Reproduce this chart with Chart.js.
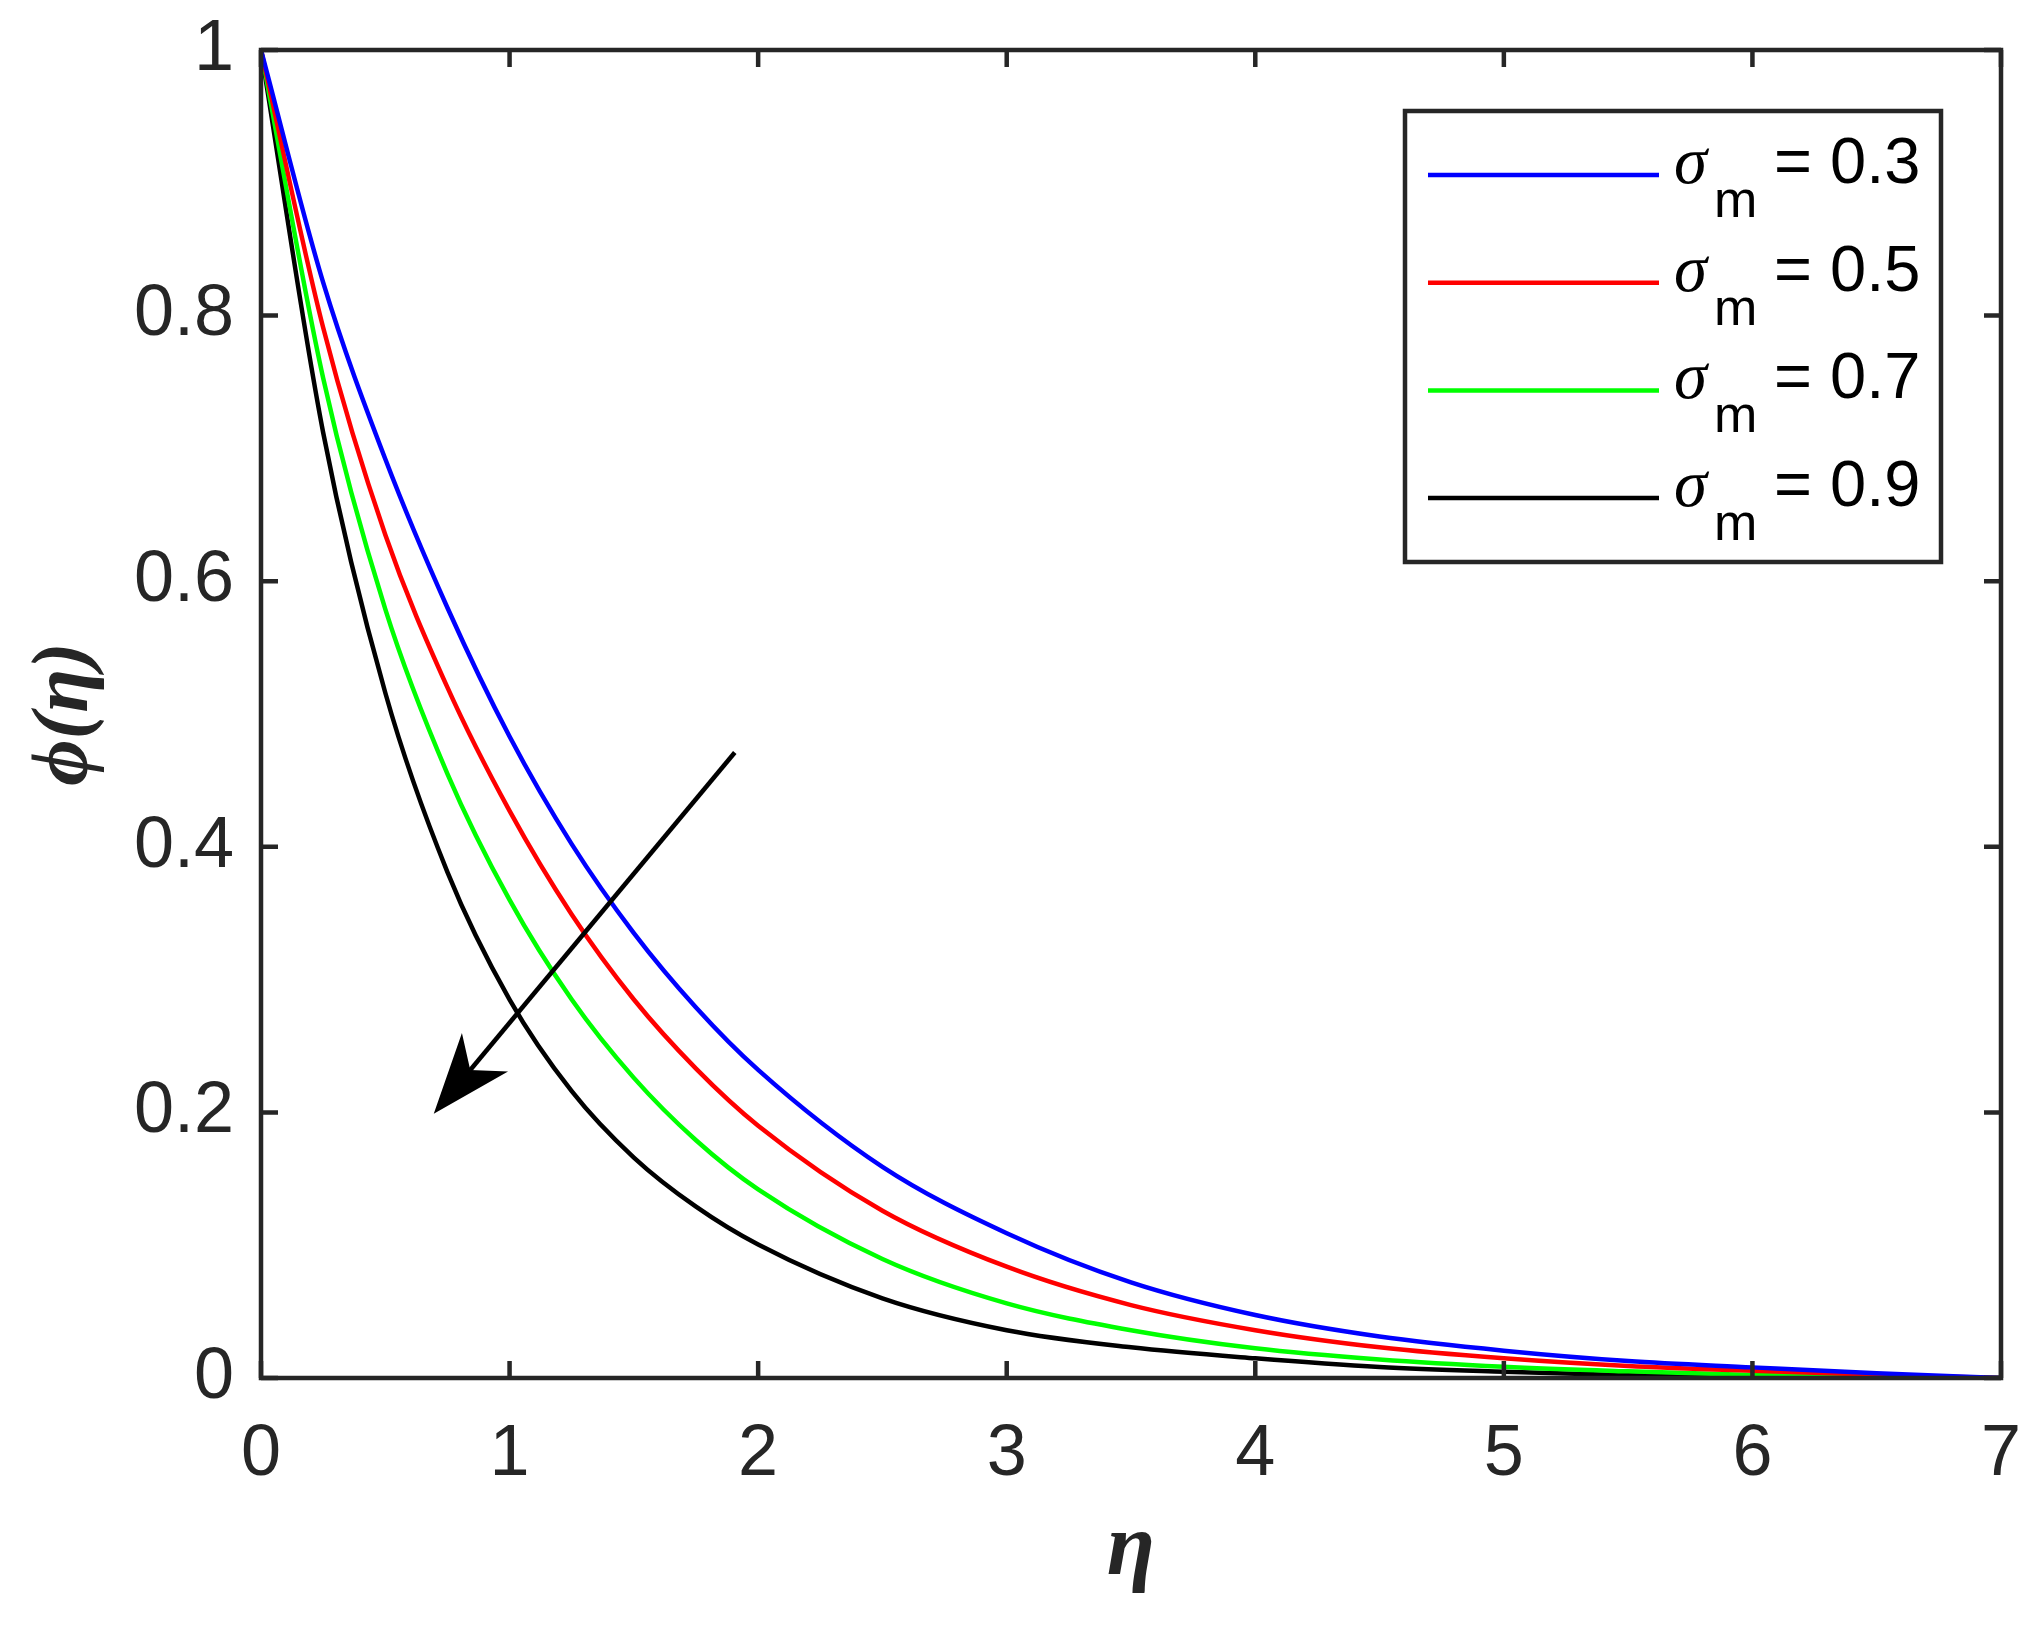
<!DOCTYPE html>
<html lang="en">
<head>
  <meta charset="UTF-8" />
  <title>Concentration profiles</title>
  <script src="https://cdn.jsdelivr.net/npm/chart.js"></script>
  <style>
    html, body { margin: 0; padding: 0; background: #ffffff; }
  </style>
</head>
<body>
  <canvas id="phiChart" width="2040" height="1630"></canvas>

  <script>
    // eta grid and phi(eta), one array per sigma_m
    const eta = [0, 0.25, 0.5, 0.75, 1, 1.25, 1.5, 1.75, 2, 2.5, 3, 3.5, 4, 4.5, 5, 5.5, 6, 6.5, 7];
    const phiSigma03 = [1, 0.825, 0.692, 0.58, 0.483, 0.402, 0.335, 0.279, 0.232, 0.159, 0.109, 0.072, 0.0474, 0.0312, 0.0206, 0.0128, 0.008, 0.0035, 0];
    const phiSigma05 = [1, 0.791, 0.635, 0.52, 0.427, 0.349, 0.285, 0.233, 0.19, 0.126, 0.0838, 0.0549, 0.036, 0.0231, 0.0148, 0.009, 0.0055, 0.0025, 0];
    const phiSigma07 = [1, 0.753, 0.579, 0.455, 0.36, 0.285, 0.226, 0.179, 0.142, 0.0896, 0.0562, 0.036, 0.0224, 0.014, 0.0085, 0.005, 0.0023, 0.001, 0];
    const phiSigma09 = [1, 0.712, 0.516, 0.381, 0.285, 0.216, 0.166, 0.129, 0.1005, 0.06, 0.036, 0.0231, 0.0148, 0.0083, 0.0047, 0.002, 0.0005, 0.0002, 0];

    const sigmaValues = ['0.3', '0.5', '0.7', '0.9'];
    const lineColors = ['#0000ff', '#ff0000', '#00ff00', '#000000'];
    const xTicks = [0, 1, 2, 3, 4, 5, 6, 7];
    const yTicks = [0, 0.2, 0.4, 0.6, 0.8, 1];

    // arrow: tail and tip in data units (eta, phi)
    const arrowTail = [1.906, 0.471];
    const arrowTip = [0.695, 0.199];

    const axisColor = '#262626';
    const series = [phiSigma03, phiSigma05, phiSigma07, phiSigma09];

    // box, inward ticks, arrow and legend in MATLAB style
    const matlabDecor = {
      id: 'matlabDecor',
      afterDatasetsDraw(chart) {
        const { ctx, chartArea: a, scales } = chart;
        const xs = scales.x, ys = scales.y;
        ctx.save();

        // frame
        ctx.strokeStyle = axisColor;
        ctx.lineWidth = 4.5;
        ctx.strokeRect(a.left, a.top, a.right - a.left, a.bottom - a.top);

        // inward ticks on all four sides
        const tl = 17;
        ctx.beginPath();
        xTicks.forEach(v => {
          const px = xs.getPixelForValue(v);
          ctx.moveTo(px, a.bottom); ctx.lineTo(px, a.bottom - tl);
          ctx.moveTo(px, a.top); ctx.lineTo(px, a.top + tl);
        });
        yTicks.forEach(v => {
          const py = ys.getPixelForValue(v);
          ctx.moveTo(a.left, py); ctx.lineTo(a.left + tl, py);
          ctx.moveTo(a.right, py); ctx.lineTo(a.right - tl, py);
        });
        ctx.stroke();

        // arrow
        const x0 = xs.getPixelForValue(arrowTail[0]), y0 = ys.getPixelForValue(arrowTail[1]);
        const x1 = xs.getPixelForValue(arrowTip[0]), y1 = ys.getPixelForValue(arrowTip[1]);
        const len = Math.hypot(x1 - x0, y1 - y0);
        const ux = (x1 - x0) / len, uy = (y1 - y0) / len;
        const nx = -uy, ny = ux;
        const headLen = 80, headHalf = 30, notch = 57;
        ctx.strokeStyle = '#000';
        ctx.fillStyle = '#000';
        ctx.lineWidth = 4.5;
        ctx.beginPath();
        ctx.moveTo(x0, y0);
        ctx.lineTo(x1 - ux * notch, y1 - uy * notch);
        ctx.stroke();
        ctx.beginPath();
        ctx.moveTo(x1, y1);
        ctx.lineTo(x1 - ux * headLen + nx * headHalf, y1 - uy * headLen + ny * headHalf);
        ctx.lineTo(x1 - ux * notch, y1 - uy * notch);
        ctx.lineTo(x1 - ux * headLen - nx * headHalf, y1 - uy * headLen - ny * headHalf);
        ctx.closePath();
        ctx.fill();

        // legend
        const box = { left: 1405, top: 111, right: 1941, bottom: 562 };
        ctx.fillStyle = '#fff';
        ctx.fillRect(box.left, box.top, box.right - box.left, box.bottom - box.top);
        ctx.strokeStyle = axisColor;
        ctx.lineWidth = 4.5;
        ctx.strokeRect(box.left, box.top, box.right - box.left, box.bottom - box.top);

        chart.data.datasets.forEach((ds, i) => {
          const rowY = 175 + i * 107.7;
          ctx.strokeStyle = ds.borderColor;
          ctx.lineWidth = 4.5;
          ctx.beginPath();
          ctx.moveTo(1428, rowY);
          ctx.lineTo(1659, rowY);
          ctx.stroke();

          const base = rowY + 8;
          ctx.fillStyle = '#000';
          ctx.textBaseline = 'alphabetic';
          ctx.textAlign = 'left';
          ctx.font = 'italic 67px "Liberation Serif"';
          ctx.fillText('\u03c3', 1674, base);
          ctx.font = '52px "Liberation Sans"';
          ctx.fillText('m', 1714, base + 34);
          ctx.font = '65px "Liberation Sans"';
          ctx.fillText('= ' + sigmaValues[i], 1774, base);
        });

        ctx.restore();
      }
    };

    const ctx = document.getElementById('phiChart').getContext('2d');
    new Chart(ctx, {
      type: 'line',
      data: {
        labels: eta,
        datasets: series.map((vals, i) => ({
          label: '\u03c3m = ' + sigmaValues[i],
          data: eta.map((e, k) => ({ x: e, y: vals[k] })),
          borderColor: lineColors[i],
          backgroundColor: lineColors[i],
          borderWidth: 4.5,
          pointRadius: 0,
          fill: false,
          cubicInterpolationMode: 'monotone'
        }))
      },
      options: {
        responsive: false,
        animation: false,
        devicePixelRatio: 1,
        layout: { padding: { top: 50, right: 39, bottom: 0, left: 0 } },
        plugins: {
          legend: { display: false },
          tooltip: { enabled: false }
        },
        scales: {
          x: {
            type: 'linear',
            min: 0,
            max: 7,
            afterBuildTicks: s => { s.ticks = xTicks.map(v => ({ value: v })); },
            afterFit: s => { s.height = 252; s.paddingLeft = 0; s.paddingRight = 0; },
            grid: { display: false, drawTicks: false },
            border: { display: false },
            ticks: {
              color: axisColor,
              padding: 34,
              maxRotation: 0,
              font: { family: '"Liberation Sans"', size: 72 },
              callback: v => String(v)
            },
            title: {
              display: true,
              text: '\u03b7',
              color: axisColor,
              padding: { top: 0, bottom: 26 },
              font: { family: '"Liberation Serif"', size: 88, style: 'italic', weight: 'bold' }
            }
          },
          y: {
            type: 'linear',
            min: 0,
            max: 1,
            afterBuildTicks: s => { s.ticks = yTicks.map(v => ({ value: v })); },
            afterFit: s => { s.width = 261; s.paddingTop = 0; s.paddingBottom = 0; },
            grid: { display: false, drawTicks: false },
            border: { display: false },
            ticks: {
              color: axisColor,
              padding: 27,
              font: { family: '"Liberation Sans"', size: 72 },
              callback: v => String(+v.toFixed(1))
            },
            title: {
              display: true,
              text: '\u03d5(\u03b7)',
              color: axisColor,
              padding: { top: 18, bottom: 0 },
              font: { family: '"Liberation Serif"', size: 80, style: 'italic', weight: 'bold' }
            }
          }
        }
      },
      plugins: [matlabDecor]
    });
  </script>
</body>
</html>
